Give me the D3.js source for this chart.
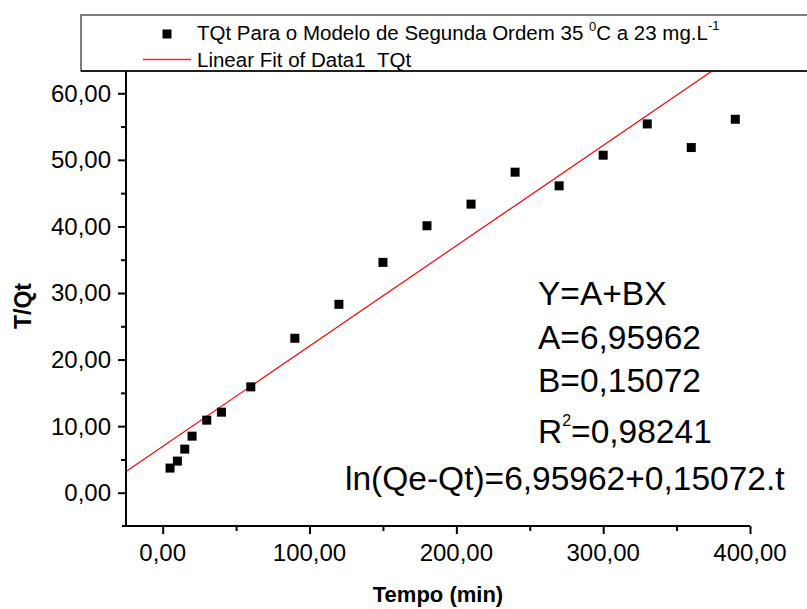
<!DOCTYPE html>
<html>
<head>
<meta charset="utf-8">
<script src="https://cdn.jsdelivr.net/npm/d3@7"></script>
<style>
  body { margin: 0; background: #fff; }
  svg { font-family: Arial, "Liberation Sans", sans-serif; }
</style>
</head>
<body>
<div id="chart"></div>
<script>
// tempo (min) e T/Qt
const tempo = [5, 10, 15, 20, 30, 40, 60, 90, 120, 150, 180, 210, 240, 270, 300, 330, 360, 390];
const tqt = [3.7, 4.75, 6.55, 8.5, 10.9, 12.1, 15.9, 23.2, 28.3, 34.6, 40.1, 43.35, 48.15, 46.1, 50.7, 55.4, 51.85, 56.1];
const fitA = 6.95962;
const fitB = 0.15072;
const xTicks = [0, 100, 200, 300, 400];
const yTicks = [0, 10, 20, 30, 40, 50, 60];
const fitLines = ['Y=A+BX', 'A=6,95962', 'B=0,15072'];

const width = 807, height = 609;
const margin = { top: 60, right: 57, bottom: 83, left: 126 };

const svg = d3.select('#chart').append('svg')
    .attr('width', width)
    .attr('height', height);

const x = d3.scaleLinear()
    .domain([-25, 400])
    .range([margin.left, width - margin.right]);

const y = d3.scaleLinear()
    .domain([-5, 65])
    .range([height - margin.bottom, margin.top]);

const fmt = d => d3.format('.2f')(d).replace('.', ',');

svg.append('defs').append('clipPath').attr('id', 'plot-clip')
    .append('rect')
    .attr('x', margin.left).attr('y', margin.top)
    .attr('width', x.range()[1] - margin.left)
    .attr('height', y.range()[0] - margin.top);

// linha do ajuste linear
svg.append('line')
    .attr('clip-path', 'url(#plot-clip)')
    .attr('x1', x(-25)).attr('y1', y(fitA + fitB * -25))
    .attr('x2', x(400)).attr('y2', y(fitA + fitB * 400))
    .attr('stroke', '#ff0000')
    .attr('stroke-width', 1.2);

// pontos
const sq = 9;
svg.append('g').selectAll('rect')
    .data(tempo)
    .enter().append('rect')
    .attr('x', (d, i) => x(d) - sq / 2)
    .attr('y', (d, i) => y(tqt[i]) - sq / 2)
    .attr('width', sq).attr('height', sq)
    .attr('fill', '#000');

// eixos
const xAxis = svg.append('g')
    .attr('transform', `translate(0,${y(-5)})`);
xAxis.call(d3.axisBottom(x).tickValues(d3.range(0, 401, 50)).tickSize(5).tickFormat(''));
xAxis.call(g => g.selectAll('.tick').filter(d => xTicks.includes(d)).select('line').attr('y2', 8));
xAxis.append('g').selectAll('text')
    .data(xTicks)
    .enter().append('text')
    .attr('x', d => x(d))
    .attr('y', 35)
    .attr('text-anchor', 'middle')
    .attr('font-size', 24)
    .attr('fill', '#000')
    .text(fmt);

const yAxis = svg.append('g')
    .attr('transform', `translate(${margin.left},0)`);
yAxis.call(d3.axisLeft(y).tickValues(d3.range(0, 61, 5)).tickSize(5).tickFormat(''));
yAxis.call(g => g.selectAll('.tick').filter(d => yTicks.includes(d)).select('line').attr('x2', -8));
yAxis.append('g').selectAll('text')
    .data(yTicks)
    .enter().append('text')
    .attr('x', -15)
    .attr('y', d => y(d))
    .attr('dy', '0.35em')
    .attr('text-anchor', 'end')
    .attr('font-size', 24)
    .attr('fill', '#000')
    .text(fmt);

svg.selectAll('.domain').attr('stroke', '#000').attr('stroke-width', 2);
xAxis.select('.domain').attr('d', `M${margin.left - 4},0H${x(400)}`);
yAxis.select('.domain').attr('d', `M0,${y(65)}V${y(-5)}`);
svg.selectAll('.tick line').attr('stroke', '#000').attr('stroke-width', 2);

// titulos dos eixos
svg.append('text')
    .attr('x', (x.range()[0] + x.range()[1]) / 2)
    .attr('y', 602)
    .attr('text-anchor', 'middle')
    .attr('font-size', 22)
    .attr('font-weight', 'bold')
    .text('Tempo (min)');

svg.append('text')
    .attr('transform', 'translate(31,306) rotate(-90)')
    .attr('text-anchor', 'middle')
    .attr('font-size', 23)
    .attr('font-weight', 'bold')
    .text('T/Qt');

// texto do ajuste
const info = svg.append('g').attr('font-size', 33.5).attr('fill', '#000');
info.selectAll('text.fit')
    .data(fitLines)
    .enter().append('text')
    .attr('class', 'fit')
    .attr('x', 538)
    .attr('y', (d, i) => [305, 349, 392][i])
    .text(d => d);
const r2 = info.append('text').attr('x', 538).attr('y', 443);
r2.append('tspan').text('R');
r2.append('tspan').attr('font-size', 16).attr('dy', -17).text('2');
r2.append('tspan').attr('dy', 17).text('=0,98241');
info.append('text').attr('x', 345).attr('y', 490).text('ln(Qe-Qt)=6,95962+0,15072.t');

// legenda
const legend = svg.append('g');
legend.append('rect')
    .attr('x', 81).attr('y', 15)
    .attr('width', 760).attr('height', 56)
    .attr('fill', '#fff')
    .attr('stroke', '#555')
    .attr('stroke-width', 1.5);
legend.append('line')
    .attr('x1', 81).attr('x2', 807)
    .attr('y1', 71).attr('y2', 71)
    .attr('stroke', '#000').attr('stroke-width', 1.5);
legend.append('rect')
    .attr('x', 167 - sq / 2).attr('y', 34 - sq / 2)
    .attr('width', sq).attr('height', sq)
    .attr('fill', '#000');
legend.append('line')
    .attr('x1', 143).attr('x2', 191)
    .attr('y1', 59.5).attr('y2', 59.5)
    .attr('stroke', '#ff2020').attr('stroke-width', 1.4);
const l1 = legend.append('text').attr('x', 197).attr('y', 40).attr('font-size', 20.5);
l1.append('tspan').text('TQt Para o Modelo de Segunda Ordem 35 ');
l1.append('tspan').attr('font-size', 13).attr('dy', -9).text('0');
l1.append('tspan').attr('dy', 9).text('C a 23 mg.L');
l1.append('tspan').attr('font-size', 13).attr('dy', -10).text('-1');
legend.append('text').attr('x', 197).attr('y', 67).attr('font-size', 20.5)
    .text('Linear Fit of Data1_TQt');
</script>
</body>
</html>
